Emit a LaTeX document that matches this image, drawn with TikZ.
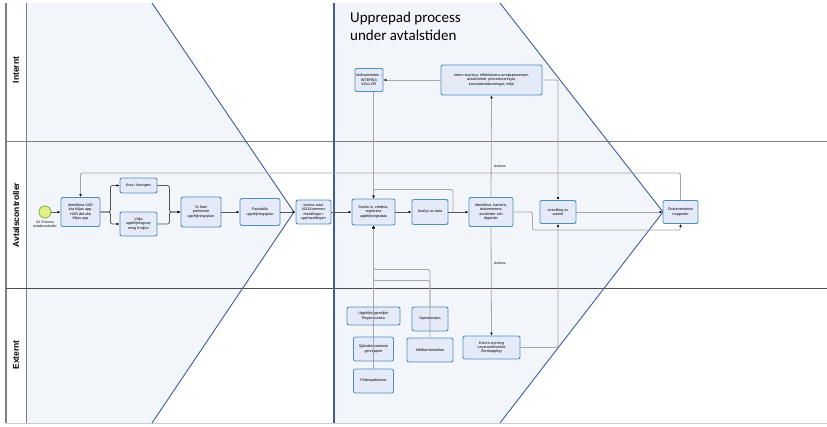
\documentclass[tikz,border=0pt]{standalone}
\usepackage{fontspec}
\setmainfont{Liberation Sans}
\newfontfamily\titlefont{Carlito}
\usetikzlibrary{arrows.meta}

\definecolor{boxfill}{HTML}{E4EAF8}
\definecolor{boxline}{HTML}{4F8FBF}
\definecolor{zonefill}{HTML}{F2F5FA}
\definecolor{zoneline}{HTML}{3F5D9C}
\definecolor{startfill}{HTML}{DDF08A}
\definecolor{startline}{HTML}{7FB33A}

\begin{document}
\begin{tikzpicture}
[x=1pt, y=-1pt,
 every node/.style={inner sep=0pt},
 task/.style={rectangle, rounded corners=2pt, draw=boxline, fill=boxfill, line width=0.9pt, align=center, font=\fontsize{3.7}{4.4}\selectfont},
 flow/.style={draw=black!65, line width=0.8pt, rounded corners=2pt, -{Latex[length=3pt,width=2.6pt,color=black]}},
 back/.style={flow, draw=black!35},
 lanelabel/.style={rotate=90, font=\bfseries\fontsize{8.5}{10}\selectfont},
 small/.style={font=\fontsize{3.5}{4.2}\selectfont, align=center}]

\useasboundingbox (0,0) rectangle (827,426);
% zones
\fill [zonefill] (26,3) -- (152,3) -- (294,212) -- (152,423) -- (26,423) -- cycle;
\fill [zonefill] (334,3) -- (500,3) -- (663,212) -- (500,423) -- (334,423) -- cycle;
% lanes
\draw [line width=1.2pt, color=gray] (6,3) -- (6,423);
\draw [line width=0.8pt, color=gray] (26,3) -- (26,423);
\draw [line width=1pt, color=gray] (6,141) -- (827,141);
\draw [line width=1pt, color=black!70] (6,288) -- (827,288);
\draw [line width=0.8pt, color=gray!40] (6,423) -- (827,423);
\draw [line width=0.9pt, color=zoneline] (152,3) -- (294,212) -- (152,423);
\draw [line width=0.9pt, color=zoneline] (500,3) -- (663,212) -- (500,423);
\draw [line width=1.2pt, color=zoneline] (334,3) -- (334,423);
\node (lint) [lanelabel] at (16,70) {Internt};
\node (lavt) [lanelabel] at (16,215) {Avtalscontroller};
\node (lext) [lanelabel] at (16,355) {Externt};
\node (title) [anchor=north west, align=left, font=\titlefont\fontsize{15}{18}\selectfont] at (350,12) {Upprepad process\\under avtalstiden};

% Avtalscontroller
\node (s1) [circle, minimum size=12pt, fill=startfill, draw=startline, line width=0.8pt] at (45,212) {};
\node (s1lab) [small, anchor=north] at (45,221) {S1 Process\\avtalscontroller};
\node (idvad) [task, minimum width=39pt, minimum height=29pt] at (80.5,212) {Identifiera VAD\\ska följas upp.\\HUR det ska\\följas upp};
\node (krav) [task, minimum width=37pt, minimum height=15pt] at (138.5,185.5) {Krav i kravspec};
\node (valja) [task, minimum width=37pt, minimum height=24pt] at (138.5,224) {Välja\\uppföljningssty\\rning Kraljics};
\node (tafram) [task, minimum width=40pt, minimum height=30pt] at (201,212) {Ta fram\\preliminär\\uppföljningsplan};
\node (faststalla) [task, minimum width=40pt, minimum height=27pt] at (260,212) {Fastställa\\uppföljningsplan};
\node (teckna) [task, minimum width=35pt, minimum height=24pt] at (313.5,212) {teckna avtal\\1611Kommers\\Handlingar i\\upphandlingen};
\node (samla) [task, minimum width=43pt, minimum height=26pt] at (373.5,212) {Samla in, värdera,\\registrera\\uppföljningsdata};
\node (analys) [task, minimum width=36pt, minimum height=25pt] at (430,212) {Analys av data};
\node (hantera) [task, minimum width=44pt, minimum height=29pt] at (491,212) {Identifiera, hantera,\\dokumentera\\avvikelser och\\åtgärder};
\node (utreck) [task, minimum width=36pt, minimum height=23pt] at (558,212) {utreckling av\\avtalet};
\node (dok) [task, minimum width=35pt, minimum height=23pt] at (680.5,212) {Dokumentation\\/rapporter};

% Internt
\node (verks) [task, minimum width=28pt, minimum height=23pt] at (369,80) {Verksamheten –\\INTERNA\\KÄLLOR};
\node (intern) [task, minimum width=101pt, minimum height=30pt] at (491.5,80) {Intern styrning: effektivisera avropsprocesser,\\avtalstrohet, prisreduceringar,\\kostnadsreduceringar, miljö};

% Externt
\node (extern) [task, minimum width=57pt, minimum height=23pt] at (491.5,347.5) {Extern styrning\\Leverantörsmöte\\Återkoppling};
\node (uppmiljo) [task, minimum width=53pt, minimum height=18pt] at (373.5,316) {Uppföljningsmiljön\\Regionsundra};
\node (spend) [task, minimum width=36pt, minimum height=24pt] at (430,319) {Spendanalys};
\node (sjalv) [task, minimum width=40pt, minimum height=24pt] at (373.5,349) {Självdeklaration/e\\genrapport};
\node (hallbar) [task, minimum width=46pt, minimum height=24pt] at (430,350) {Hållbarhetskollen};
\node (falt) [task, minimum width=40pt, minimum height=24pt] at (373.5,381) {Fältinspektioner};

% connectors
\draw [flow] (s1) -- (idvad);
\draw [flow] (idvad.east) -- ++(10,0) |- (krav.west);
\draw [flow] (idvad.east) -- ++(10,0) |- (valja.west);
\draw [flow] (krav.east) -- ++(12,0) |- (tafram.west);
\draw [flow] (valja.east) -- ++(12,0) |- (tafram.west);
\draw [flow] (tafram) -- (faststalla);
\draw [flow] (faststalla) -- (teckna);
\draw [flow] (teckna) -- (samla);
\draw [flow] (samla) -- (analys);
\draw [flow] (analys) -- (hantera);
\coordinate (again) at (453,212);
\draw [back] (again) |- ([yshift=9pt]samla.north) -- (samla.north);
\draw [back] (dok.north) -- ++(0,-27) -| (idvad.north);
\draw [back] (verks.south -| samla.north) -- (samla.north);
\draw [back] (intern.west) -- (verks.east);
\draw [back] (hantera.north) -- (intern.south);
\node (act1) [small, anchor=west] at (494,166) {Actions};
\draw [back] (hantera.south) -- (extern.north);
\node (act2) [small, anchor=west] at (494,263) {Actions};
\draw [back] (intern.east) -| (utreck.north);
\draw [back] (extern.east) -| (utreck.south);
\draw [back] (utreck) -- (dok);
\draw [back] (hantera.east) -- ++(19,0) |- ([yshift=-6pt]dok.south) -- (dok.south);
\draw [back] (uppmiljo.north) -- (samla.south);
\draw [back] (sjalv.north) -- (samla.south);
\draw [back] (falt.north) -- (samla.south);
\draw [back] (spend.north) -- ++(0,-26) -| (samla.south);
\draw [back] (hallbar.north) -- ++(0,-68) -| (samla.south);
\end{tikzpicture}
\end{document}
